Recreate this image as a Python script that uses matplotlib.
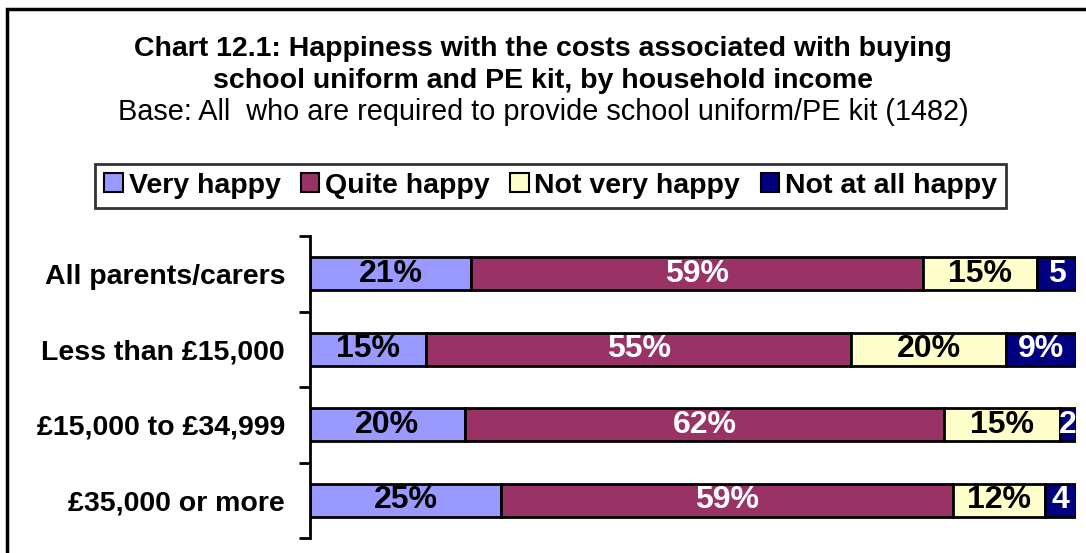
import numpy as np
import matplotlib.pyplot as plt
from matplotlib.patches import Rectangle

plt.rcParams['font.family'] = ['Liberation Sans', 'DejaVu Sans']

# data
categories = ['All parents/carers', 'Less than £15,000',
              '£15,000 to £34,999', '£35,000 or more']
series = ['Very happy', 'Quite happy', 'Not very happy', 'Not at all happy']
very_happy = [21, 15, 20, 25]
quite_happy = [59, 55, 62, 59]
not_very_happy = [15, 20, 15, 12]
not_at_all_happy = [5, 9, 2, 4]
# small segments are labelled without the % sign in the original
labels = [
    ['21%', '15%', '20%', '25%'],
    ['59%', '55%', '62%', '59%'],
    ['15%', '20%', '15%', '12%'],
    ['5', '9%', '2', '4'],
]
colors = ['#9999FF', '#993366', '#FFFFCC', '#000080']
text_colors = ['black', 'white', 'black', 'white']

values = np.array([very_happy, quite_happy, not_very_happy, not_at_all_happy], dtype=float)
# 100% stacked, like the Excel original
shares = values / values.sum(axis=0) * 100

fig = plt.figure(figsize=(10.86, 5.53), dpi=100)
ax = fig.add_axes([0.2855, 0.027, 0.705, 0.546])

y = np.arange(len(categories))
left = np.zeros(len(categories))
handles = []
for i, name in enumerate(series):
    bars = ax.barh(y, shares[i], left=left, height=0.44, color=colors[i],
                   edgecolor='black', linewidth=2, label=name)
    handles.append(bars)
    for j in range(len(categories)):
        ax.text(left[j] + shares[i][j] / 2, y[j], labels[i][j], ha='center',
                va='center', fontsize=23, fontweight='bold', color=text_colors[i])
    left += shares[i]

ax.set_xlim(0, 100)
ax.set_ylim(len(categories) - 0.5, -0.5)
ax.set_yticks(y)
ax.set_yticklabels(categories, fontsize=20.5, fontweight='bold')
ax.set_yticks(np.arange(len(categories) + 1) - 0.5, minor=True)
ax.tick_params(axis='y', which='major', length=0, pad=18)
ax.tick_params(axis='y', which='minor', length=8, width=2, direction='out')
ax.set_xticks([])
for s in ['top', 'right', 'bottom']:
    ax.spines[s].set_visible(False)
ax.spines['left'].set_linewidth(2)

fig.text(0.5, 0.911, 'Chart 12.1: Happiness with the costs associated with buying',
         ha='center', va='center', fontsize=20.5, fontweight='bold')
fig.text(0.5, 0.853, 'school uniform and PE kit, by household income',
         ha='center', va='center', fontsize=20.5, fontweight='bold')
fig.text(0.5, 0.797, 'Base: All  who are required to provide school uniform/PE kit (1482)',
         ha='center', va='center', fontsize=20.8)

leg = fig.legend(handles=handles, loc='center', bbox_to_anchor=(0.507, 0.664), ncol=4,
                 frameon=True, fancybox=False, edgecolor='black',
                 prop={'size': 20.5, 'weight': 'bold'}, handlelength=0.65,
                 handleheight=0.65, handletextpad=0.2, columnspacing=0.72,
                 borderpad=0.32, borderaxespad=0)
leg.get_frame().set_linewidth(2)
for h in leg.legend_handles:
    h.set_linewidth(1.5)

# outer chart frame (right and bottom sides fall outside the image)
fig.patches.append(Rectangle((0.0065, -0.1), 1.1, 1.084, transform=fig.transFigure,
                             fill=False, edgecolor='black', linewidth=2.5))

fig.savefig('out.png', dpi=100)
